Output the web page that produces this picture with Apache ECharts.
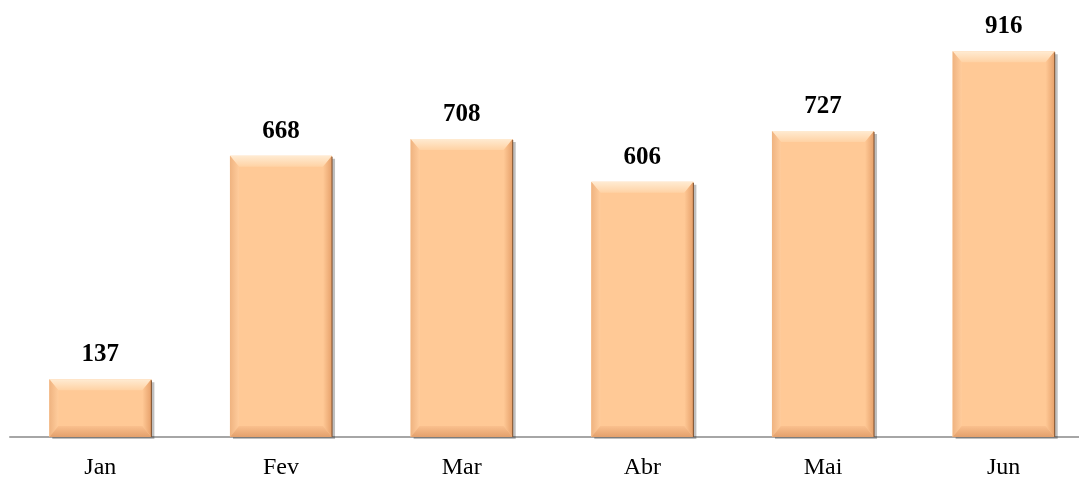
<!DOCTYPE html>
<html>
<head>
<meta charset="utf-8">
<script src="https://cdn.jsdelivr.net/npm/echarts@6/dist/echarts.min.js"></script>
<style>html,body{margin:0;padding:0;background:#fff;}#c{width:1079px;height:480px;}</style>
</head>
<body>
<div id="c"></div>
<script>
var categories = ['Jan', 'Fev', 'Mar', 'Abr', 'Mai', 'Jun'];
var values = [137, 668, 708, 606, 727, 916];

var chart = echarts.init(document.getElementById('c'));
var FONT = '"Liberation Serif", "Times New Roman", serif';

function renderItem(params, api) {
  var idx = api.value(0);
  var val = api.value(1);
  var top = api.coord([idx, val]);
  var base = api.coord([idx, 0]);
  var w = api.size([1, 0])[0] * 0.565;
  var x0 = top[0] - w / 2, x1 = top[0] + w / 2;
  var y0 = top[1], y1 = base[1];
  var b = 11, s = 9;
  return {
    type: 'group',
    children: [
      { type: 'rect', shape: { x: x0 + 3, y: y0 + 3, width: w, height: y1 - y0 - 1 },
        style: { fill: 'rgba(0,0,0,0.25)' } },
      { type: 'rect', shape: { x: x0, y: y0, width: w, height: y1 - y0 },
        style: { fill: '#FFC996' } },
      { type: 'polygon', shape: { points: [[x0, y0], [x1, y0], [x1 - s, y0 + b], [x0 + s, y0 + b]] },
        style: { fill: { type: 'linear', x: 0, y: 0, x2: 0, y2: 1, colorStops: [{ offset: 0, color: '#FFEBD2' }, { offset: 1, color: '#FFD2A4' }] } } },
      { type: 'polygon', shape: { points: [[x0, y0], [x0 + s, y0 + b], [x0 + s, y1 - b], [x0, y1]] },
        style: { fill: { type: 'linear', x: 0, y: 0, x2: 1, y2: 0, colorStops: [{ offset: 0, color: '#EFB380' }, { offset: 1, color: '#FFCC9C' }] } } },
      { type: 'polygon', shape: { points: [[x1, y0], [x1 - s, y0 + b], [x1 - s, y1 - b], [x1, y1]] },
        style: { fill: { type: 'linear', x: 0, y: 0, x2: 1, y2: 0, colorStops: [{ offset: 0, color: '#FFC996' }, { offset: 1, color: '#E6A06A' }] } } },
      { type: 'polygon', shape: { points: [[x0, y1], [x0 + s, y1 - b], [x1 - s, y1 - b], [x1, y1]] },
        style: { fill: { type: 'linear', x: 0, y: 0, x2: 0, y2: 1, colorStops: [{ offset: 0, color: '#FAC08E' }, { offset: 1, color: '#E3A06C' }] } } },
      { type: 'line', shape: { x1: x1, y1: y0 + 1, x2: x1, y2: y1 },
        style: { stroke: '#7A4E2E', lineWidth: 1 } },
      { type: 'text', x: top[0], y: y0 - 12,
        style: { text: String(val), fill: '#000', font: 'bold 25px ' + FONT, align: 'center', verticalAlign: 'bottom' } }
    ]
  };
}

chart.setOption({
  animation: false,
  grid: { left: 10, width: 1084, top: 16, bottom: 43, outerBoundsMode: 'none', containLabel: false },
  xAxis: {
    type: 'category',
    data: categories,
    axisLine: { show: true, lineStyle: { color: '#A6A6A6', width: 2 } },
    axisTick: { show: false },
    axisLabel: { color: '#000', fontFamily: FONT, fontSize: 24, margin: 19 }
  },
  yAxis: { type: 'value', min: 0, max: 1000, show: false, splitLine: { show: false } },
  series: [{
    type: 'custom',
    renderItem: renderItem,
    data: values.map(function (v, i) { return [i, v]; }),
    clip: false
  }]
});
</script>
</body>
</html>
